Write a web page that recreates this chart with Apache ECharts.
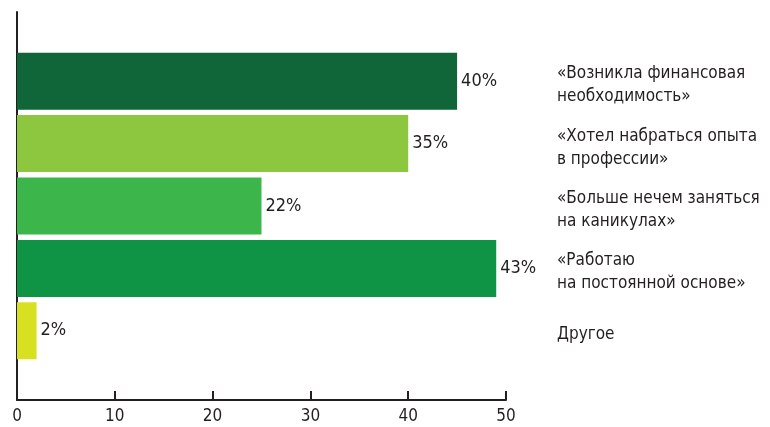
<!DOCTYPE html>
<html>
<head>
<meta charset="utf-8">
<script src="https://cdn.jsdelivr.net/npm/echarts@6/dist/echarts.min.js"></script>
<style>
  html, body { margin: 0; padding: 0; background: #fff; }
  #chart { width: 770px; height: 427px; }
</style>
</head>
<body>
<div id="chart"></div>
<script>
  const categories = [
    '«Возникла финансовая\nнеобходимость»',
    '«Хотел набраться опыта\nв профессии»',
    '«Больше нечем заняться\nна каникулах»',
    '«Работаю\nна постоянной основе»',
    'Другое',
  ]
  // bar lengths as drawn against the axis
  const values = [45, 40, 25, 49, 2]
  // percent labels printed next to the bars
  const valueLabels = ['40%', '35%', '22%', '43%', '2%']
  const barColors = ['#106539', '#8dc63f', '#3cb54a', '#0e9444', '#d8e022']
  const xMin = 0
  const xMax = 50
  const xStep = 10

  const font = '"Liberation Sans Narrow", "DejaVu Sans Condensed", sans-serif'
  const ink = '#231f20'

  const chart = echarts.init(document.getElementById('chart'))
  chart.setOption({
    animation: false,
    grid: [
      { left: 17, right: 264, top: 12, bottom: 27 },
      { left: 17, right: 264, top: 50, bottom: 65 },
      // same bands as the bars, nudged a little lower for the text column
      { left: 17, right: 264, top: 54, bottom: 61 },
    ],
    xAxis: [
      {
        gridIndex: 0,
        type: 'value',
        min: xMin,
        max: xMax,
        interval: xStep,
        axisLine: { show: true, lineStyle: { color: ink, width: 2 } },
        axisTick: { show: true, inside: true, length: 9, lineStyle: { color: ink, width: 2 } },
        axisLabel: { color: ink, fontFamily: font, fontSize: 17, margin: 8 },
        splitLine: { show: false },
      },
      { gridIndex: 1, type: 'value', min: xMin, max: xMax, show: false },
      { gridIndex: 2, type: 'value', min: xMin, max: xMax, show: false },
    ],
    yAxis: [
      {
        gridIndex: 0,
        type: 'value',
        min: 0,
        max: 1,
        axisLine: { show: true, lineStyle: { color: ink, width: 2 } },
        axisTick: { show: false },
        axisLabel: { show: false },
        splitLine: { show: false },
      },
      { gridIndex: 1, type: 'category', inverse: true, data: categories, show: false },
      {
        gridIndex: 2,
        type: 'category',
        inverse: true,
        position: 'right',
        data: categories,
        axisLine: { show: false },
        axisTick: { show: false },
        axisLabel: {
          margin: 51,
          align: 'left',
          color: ink,
          fontFamily: font,
          fontSize: 17,
          lineHeight: 23,
        },
      },
    ],
    series: [
      {
        type: 'bar',
        xAxisIndex: 1,
        yAxisIndex: 1,
        barWidth: 57,
        data: values.map((v, i) => ({ value: v, itemStyle: { color: barColors[i] } })),
        label: {
          show: true,
          position: 'right',
          distance: 4,
          color: ink,
          fontFamily: font,
          fontSize: 18,
          formatter: (p) => valueLabels[p.dataIndex],
        },
      },
    ],
  })
</script>
</body>
</html>
